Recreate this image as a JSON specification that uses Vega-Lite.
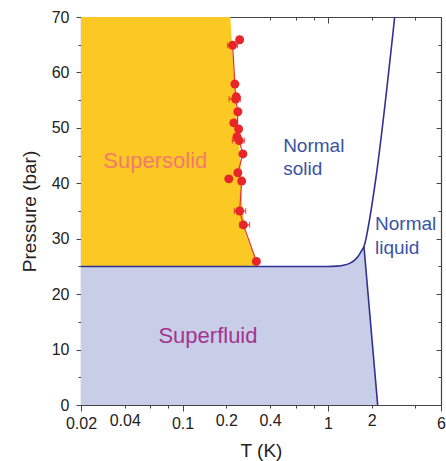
{
  "$schema": "https://vega.github.io/schema/vega-lite/v6.json",
  "autosize": {"type": "none"},
  "padding": {"left": 81, "top": 17, "right": 5, "bottom": 56},
  "width": 360,
  "height": 388,
  "config": {
    "view": {"stroke": null},
    "font": "Liberation Sans",
    "axis": {"grid": false, "domainColor": "#444", "domainWidth": 1.2, "tickColor": "#444", "tickWidth": 1, "labelFont": "Liberation Sans", "labelFontSize": 16, "labelColor": "#222", "titleFont": "Liberation Sans", "titleFontSize": 19, "titleFontWeight": "normal", "titleColor": "#222", "labelOverlap": false, "labelBound": false, "labelFlush": false}
  },
  "datasets": {
    "sf": [
      {"T": 0.02, "P": 25}, {"T": 1.0, "P": 25}, {"T": 1.15, "P": 25.05}, {"T": 1.3, "P": 25.25}, {"T": 1.42, "P": 25.6}, {"T": 1.52, "P": 26.1}, {"T": 1.6, "P": 26.7}, {"T": 1.66, "P": 27.3}, {"T": 1.71, "P": 27.9}, {"T": 1.77, "P": 28.6}, {"T": 2.2, "P": 0}
    ],
    "ss": [
      {"T": 0.33, "P": 25}, {"T": 0.31, "P": 27}, {"T": 0.27, "P": 31}, {"T": 0.256, "P": 37}, {"T": 0.25, "P": 44}, {"T": 0.235, "P": 52}, {"T": 0.224, "P": 61}, {"T": 0.213, "P": 70}
    ],
    "melt": [
      {"T": 0.02, "P": 25}, {"T": 1.0, "P": 25}, {"T": 1.15, "P": 25.05}, {"T": 1.3, "P": 25.25}, {"T": 1.42, "P": 25.6}, {"T": 1.52, "P": 26.1}, {"T": 1.6, "P": 26.7}, {"T": 1.66, "P": 27.3}, {"T": 1.71, "P": 27.9}, {"T": 1.77, "P": 28.6}, {"T": 1.95, "P": 34}, {"T": 2.13, "P": 40.6}, {"T": 2.88, "P": 70}
    ],
    "lambda": [
      {"T": 1.77, "P": 28.6}, {"T": 2.2, "P": 0}
    ],
    "pts": [
      {"T": 0.247, "P": 65.9}, {"T": 0.221, "P": 64.9}, {"T": 0.229, "P": 57.9}, {"T": 0.234, "P": 55.6}, {"T": 0.232, "P": 55.2}, {"T": 0.24, "P": 52.9}, {"T": 0.225, "P": 50.9}, {"T": 0.243, "P": 49.8}, {"T": 0.237, "P": 48.4}, {"T": 0.245, "P": 47.7}, {"T": 0.26, "P": 45.3}, {"T": 0.24, "P": 41.9}, {"T": 0.208, "P": 40.8}, {"T": 0.255, "P": 40.4}, {"T": 0.247, "P": 35.0}, {"T": 0.262, "P": 32.5}, {"T": 0.322, "P": 25.9}
    ],
    "rline": [
      {"o": 1, "T": 0.221, "P": 64.9}, {"o": 2, "T": 0.229, "P": 57.9}, {"o": 3, "T": 0.232, "P": 55.2}, {"o": 4, "T": 0.24, "P": 52.9}, {"o": 5, "T": 0.237, "P": 48.4}, {"o": 6, "T": 0.245, "P": 47.7}, {"o": 7, "T": 0.26, "P": 45.3}, {"o": 8, "T": 0.24, "P": 41.9}, {"o": 9, "T": 0.255, "P": 40.4}, {"o": 10, "T": 0.247, "P": 35.0}, {"o": 11, "T": 0.262, "P": 32.5}, {"o": 12, "T": 0.322, "P": 25.9}
    ],
    "eb": [
      {"Tlo": 0.204, "Thi": 0.239, "P": 64.9}, {"Tlo": 0.209, "Thi": 0.25, "P": 55.2}, {"Tlo": 0.22, "Thi": 0.266, "P": 47.7}, {"Tlo": 0.227, "Thi": 0.272, "P": 35.0}, {"Tlo": 0.247, "Thi": 0.289, "P": 32.5}
    ],
    "labels": [
      {"T": 0.0285, "P": 42.7, "text": "Supersolid", "kind": "ss"},
      {"T": 0.0682, "P": 11.1, "text": "Superfluid", "kind": "sf"},
      {"T": 0.492, "P": 45.7, "text": "Normal", "kind": "n"},
      {"T": 0.492, "P": 41.5, "text": "solid", "kind": "n"},
      {"T": 2.11, "P": 31.5, "text": "Normal", "kind": "n"},
      {"T": 2.11, "P": 27.3, "text": "liquid", "kind": "n"}
    ]
  },
  "resolve": {"axis": {"x": "independent", "y": "independent"}},
  "layer": [
    {
      "data": {"name": "sf"},
      "mark": {"type": "area", "color": "#C8CEE7", "orient": "vertical"},
      "encoding": {
        "x": {"field": "T", "type": "quantitative", "scale": {"type": "log", "domain": [0.02, 6], "nice": false},
          "axis": {"orient": "bottom", "values": [0.02, 0.04, 0.06, 0.08, 0.1, 0.2, 0.4, 0.6, 0.8, 1, 2, 4, 6],
            "labelExpr": "indexof([0.02, 0.04, 0.1, 0.2, 0.4, 1, 2, 6], datum.value) >= 0 ? '' + datum.value : ''",
            "tickSize": {"condition": {"test": "datum.value == 0.1 || datum.value == 1 || datum.value == 0.02 || datum.value == 6", "value": 6}, "value": 3},
            "labelPadding": 4, "titlePadding": 10, "title": "T (K)"}},
        "y": {"field": "P", "type": "quantitative", "scale": {"domain": [0, 70], "nice": false, "zero": false},
          "axis": {"orient": "left", "values": [0, 5, 10, 15, 20, 25, 30, 35, 40, 45, 50, 55, 60, 65, 70],
            "labelExpr": "datum.value % 10 == 0 ? datum.label : ''",
            "tickSize": {"condition": {"test": "datum.value % 10 == 0", "value": 5}, "value": 3},
            "labelPadding": 7, "titlePadding": 12, "title": "Pressure (bar)"}},
        "y2": {"datum": 0}
      }
    },
    {
      "data": {"name": "ss"},
      "mark": {"type": "area", "color": "#FBC824", "orient": "horizontal"},
      "encoding": {
        "x": {"field": "T", "type": "quantitative", "scale": {"type": "log", "domain": [0.02, 6], "nice": false}, "axis": null},
        "x2": {"datum": 0.02},
        "y": {"field": "P", "type": "quantitative", "scale": {"domain": [0, 70], "nice": false, "zero": false}, "axis": null}
      }
    },
    {
      "data": {"name": "melt"},
      "mark": {"type": "line", "color": "#2E3192", "strokeWidth": 1.6, "interpolate": "monotone"},
      "encoding": {
        "x": {"field": "T", "type": "quantitative", "scale": {"type": "log", "domain": [0.02, 6], "nice": false}, "axis": null},
        "y": {"field": "P", "type": "quantitative", "scale": {"domain": [0, 70], "nice": false, "zero": false}, "axis": null}
      }
    },
    {
      "data": {"name": "lambda"},
      "mark": {"type": "line", "color": "#2E3192", "strokeWidth": 1.6},
      "encoding": {
        "x": {"field": "T", "type": "quantitative", "scale": {"type": "log", "domain": [0.02, 6], "nice": false}, "axis": null},
        "y": {"field": "P", "type": "quantitative", "scale": {"domain": [0, 70], "nice": false, "zero": false}, "axis": null}
      }
    },
    {
      "data": {"name": "rline"},
      "mark": {"type": "line", "color": "#E8332A", "strokeWidth": 1.2},
      "encoding": {
        "x": {"field": "T", "type": "quantitative", "scale": {"type": "log", "domain": [0.02, 6], "nice": false}, "axis": null},
        "y": {"field": "P", "type": "quantitative", "scale": {"domain": [0, 70], "nice": false, "zero": false}, "axis": null},
        "order": {"field": "o", "type": "quantitative"}
      }
    },
    {
      "data": {"name": "eb"},
      "mark": {"type": "rule", "color": "#E8262A", "strokeWidth": 1.2},
      "encoding": {
        "x": {"field": "Tlo", "type": "quantitative", "scale": {"type": "log", "domain": [0.02, 6], "nice": false}, "axis": null},
        "x2": {"field": "Thi"},
        "y": {"field": "P", "type": "quantitative", "scale": {"domain": [0, 70], "nice": false, "zero": false}, "axis": null}
      }
    },
    {
      "data": {"name": "eb"},
      "mark": {"type": "tick", "color": "#E8262A", "orient": "vertical", "size": 6, "thickness": 1.2},
      "encoding": {
        "x": {"field": "Tlo", "type": "quantitative", "scale": {"type": "log", "domain": [0.02, 6], "nice": false}, "axis": null},
        "y": {"field": "P", "type": "quantitative", "scale": {"domain": [0, 70], "nice": false, "zero": false}, "axis": null}
      }
    },
    {
      "data": {"name": "eb"},
      "mark": {"type": "tick", "color": "#E8262A", "orient": "vertical", "size": 6, "thickness": 1.2},
      "encoding": {
        "x": {"field": "Thi", "type": "quantitative", "scale": {"type": "log", "domain": [0.02, 6], "nice": false}, "axis": null},
        "y": {"field": "P", "type": "quantitative", "scale": {"domain": [0, 70], "nice": false, "zero": false}, "axis": null}
      }
    },
    {
      "data": {"name": "pts"},
      "mark": {"type": "circle", "color": "#E8262A", "size": 80, "opacity": 1},
      "encoding": {
        "x": {"field": "T", "type": "quantitative", "scale": {"type": "log", "domain": [0.02, 6], "nice": false}, "axis": null},
        "y": {"field": "P", "type": "quantitative", "scale": {"domain": [0, 70], "nice": false, "zero": false}, "axis": null}
      }
    },
    {
      "data": {"name": "labels"},
      "transform": [{"filter": "datum.kind == 'ss'"}],
      "mark": {"type": "text", "color": "#F37A6C", "fontSize": 22, "align": "left", "baseline": "alphabetic", "font": "Liberation Sans"},
      "encoding": {
        "x": {"field": "T", "type": "quantitative", "scale": {"type": "log", "domain": [0.02, 6], "nice": false}, "axis": null},
        "y": {"field": "P", "type": "quantitative", "scale": {"domain": [0, 70], "nice": false, "zero": false}, "axis": null},
        "text": {"field": "text"}
      }
    },
    {
      "data": {"name": "labels"},
      "transform": [{"filter": "datum.kind == 'sf'"}],
      "mark": {"type": "text", "color": "#A3348F", "fontSize": 22, "align": "left", "baseline": "alphabetic", "font": "Liberation Sans"},
      "encoding": {
        "x": {"field": "T", "type": "quantitative", "scale": {"type": "log", "domain": [0.02, 6], "nice": false}, "axis": null},
        "y": {"field": "P", "type": "quantitative", "scale": {"domain": [0, 70], "nice": false, "zero": false}, "axis": null},
        "text": {"field": "text"}
      }
    },
    {
      "data": {"name": "labels"},
      "transform": [{"filter": "datum.kind == 'n'"}],
      "mark": {"type": "text", "color": "#3A53A4", "fontSize": 19, "align": "left", "baseline": "alphabetic", "font": "Liberation Sans"},
      "encoding": {
        "x": {"field": "T", "type": "quantitative", "scale": {"type": "log", "domain": [0.02, 6], "nice": false},
          "axis": {"orient": "top", "values": [0.02, 0.04, 0.06, 0.08, 0.1, 0.2, 0.4, 0.6, 0.8, 1, 2, 4, 6], "labels": false, "title": null,
            "tickSize": {"condition": {"test": "datum.value == 0.1 || datum.value == 1 || datum.value == 0.02 || datum.value == 6", "value": -6}, "value": -3}}},
        "y": {"field": "P", "type": "quantitative", "scale": {"domain": [0, 70], "nice": false, "zero": false},
          "axis": {"orient": "right", "values": [0, 5, 10, 15, 20, 25, 30, 35, 40, 45, 50, 55, 60, 65, 70], "labels": false, "title": null,
            "tickSize": {"condition": {"test": "datum.value % 10 == 0", "value": -5}, "value": -3}}},
        "text": {"field": "text"}
      }
    }
  ]
}
